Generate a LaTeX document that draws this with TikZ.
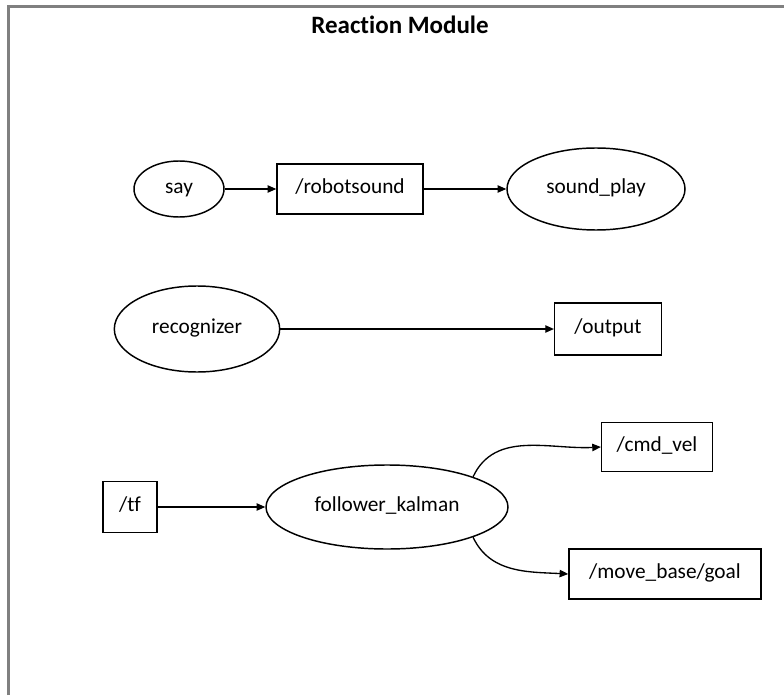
\documentclass[tikz,border=0pt]{standalone}
\usepackage{fontspec}
\setmainfont{Carlito}[Ligatures=NoCommon]
\usetikzlibrary{shapes.geometric,arrows.meta}
\definecolor{framegray}{RGB}{128,128,128}
\begin{document}
\begin{tikzpicture}[x=0.75pt,y=-0.75pt,
  every node/.style={font=\fontsize{16}{19}\selectfont, inner sep=0pt,
    text height=0.82em, text depth=0.18em},
  proc/.style={ellipse, draw, line width=1.1pt},
  topic/.style={rectangle, draw, line width=1.1pt},
  link/.style={line width=1pt, -{Triangle[length=6.5pt,width=5.5pt]}}]
\useasboundingbox (0,0) rectangle (784,695);
% module frame (open at the bottom and right)
\draw[line width=2.4pt, draw=framegray] (8.5,695) -- (8.5,6.5) -- (784,6.5);
\node[font=\fontsize{18.75}{22}\selectfont\bfseries] (title) at (400,29) {Reaction Module};

% speech output
\node[proc, minimum width=67.5pt, minimum height=42pt] (say) at (179,189) {say};
\node[topic, minimum width=109.5pt, minimum height=37.5pt] (robotsound) at (350,189) {/robotsound};
\node[proc, minimum width=133.5pt, minimum height=61.5pt] (soundplay) at (596,189) {sound\_play};
\draw[link] (say) -- (robotsound);
\draw[link] (robotsound) -- (soundplay);

% speech recognition
\node[proc, minimum width=124pt, minimum height=64.5pt] (recognizer) at (197,329) {recognizer};
\node[topic, minimum width=80pt, minimum height=39pt] (output) at (608,329) {/output};
\draw[link] (recognizer) -- (output);

% person following
\node[topic, minimum width=40.5pt, minimum height=38pt] (tf) at (130,507) {/tf};
\node[proc, minimum width=181.5pt, minimum height=63pt] (follower) at (387,507) {follower\_kalman};
\node[topic, minimum width=83pt, minimum height=37pt] (cmdvel) at (657,447) {/cmd\_vel};
\node[topic, minimum width=144pt, minimum height=37.5pt] (goal) at (665,574) {/move\_base/goal};
\draw[link] (tf) -- (follower);
\draw[link] (follower.north east) to[out=65,in=183] (cmdvel.west);
\draw[link] (follower.south east) to[out=-65,in=177] (goal.west);
\end{tikzpicture}
\end{document}
